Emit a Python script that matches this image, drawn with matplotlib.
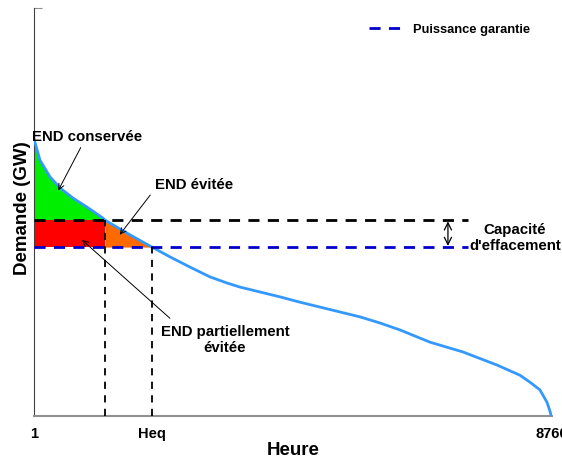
import numpy as np
import matplotlib
matplotlib.use("Agg")
import matplotlib.pyplot as plt

plt.rcParams['font.family'] = ['Liberation Sans', 'DejaVu Sans']
plt.rcParams['font.weight'] = 'bold'

# monotone load curve (hours sorted by demand)
heures = [1, 102, 272, 441, 661, 897, 1168, 1202, 1624, 1996, 2301, 2639,
          2977, 3265, 3484, 3823, 4161, 4499, 4837, 5175, 5514, 5852, 6190,
          6697, 7255, 7830, 8219, 8388, 8558, 8676, 8727, 8750]
demande = [67.9, 62.7, 58.6, 55.9, 53.4, 51.2, 48.5, 48.0, 44.4, 41.4, 39.0,
           36.5, 34.1, 32.6, 31.6, 30.4, 29.2, 27.9, 26.7, 25.5, 24.3, 22.8,
           21.1, 18.1, 15.7, 12.5, 10.0, 8.3, 6.4, 3.4, 1.2, 0.0]

puissance_garantie = 41.4
capacite = 48.0
h_croisement = 1202
h_eq = 1996
h_fin_lignes = 7340

xticks = [1, h_eq, 8760]
xticklabels = ["1", "Heq", "8760"]

x = np.array(heures)
y = np.array(demande)

fig = plt.figure(figsize=(5.62, 4.61), dpi=100)
ax = fig.add_axes([0.0605, 0.0976, 0.9215, 0.885])

# areas
m1 = x <= h_croisement
ax.fill_between(x[m1], capacite, y[m1], color="#00ee00", lw=0)
ax.fill_between([1, h_croisement], puissance_garantie, capacite, color="#ff0000", lw=0)
m2 = (x >= h_croisement) & (x <= h_eq)
ax.fill_between(x[m2], puissance_garantie, np.minimum(y[m2], capacite),
                color="#ff6a00", lw=0)

ax.plot(x, y, color="#3399ff", lw=2.0, zorder=3, solid_capstyle="round")

ax.plot([1, h_fin_lignes], [capacite, capacite], color="black", lw=2.0,
        dashes=(4, 3), zorder=4)
ax.plot([1, h_fin_lignes], [puissance_garantie, puissance_garantie],
        color="#0000cc", lw=2.0, dashes=(4, 3), zorder=4,
        label="Puissance garantie")
ax.plot([h_croisement, h_croisement], [0, capacite], color="black", lw=1.3,
        dashes=(4, 3.5), zorder=4)
ax.plot([h_eq, h_eq], [0, puissance_garantie], color="black", lw=1.3,
        dashes=(4, 3.5), zorder=4)

# annotations
arr = dict(arrowstyle="->", color="black", lw=0.7)
fs = 10.8
ax.text(897, 68.4, "END conservée", ha="center", va="center", fontsize=fs)
ax.annotate("", xy=(390, 54.7), xytext=(813, 66.4), arrowprops=arr)
ax.text(2707, 56.6, "END évitée", ha="center", va="center", fontsize=fs)
ax.annotate("", xy=(1422, 43.9), xytext=(1996, 54.7), arrowprops=arr)
ax.text(3231, 18.6, "END partiellement\névitée", ha="center", va="center",
        fontsize=fs, linespacing=1.2)
ax.annotate("", xy=(779, 43.6), xytext=(2335, 23.5), arrowprops=arr)
ax.annotate("", xy=(7002, capacite - 0.3), xytext=(7002, puissance_garantie + 0.3),
            arrowprops=dict(arrowstyle="<->", color="black", lw=0.9,
                            mutation_scale=13, shrinkA=0, shrinkB=0))
ax.text(8134, 43.6, "Capacité\nd'effacement", ha="center", va="center",
        fontsize=fs, linespacing=1.2)

ax.set_xlim(1, 8760)
ax.set_ylim(0, 100)
ax.set_xticks(xticks)
ax.set_xticklabels(xticklabels, fontsize=10.5)
ax.tick_params(axis="x", length=0, pad=8)
ax.set_yticks([100])
ax.set_yticklabels([""])
ax.tick_params(axis="y", direction="in", length=6, color="#909090")
ax.spines["top"].set_visible(False)
ax.spines["right"].set_visible(False)
ax.spines["left"].set_color("#404040")
ax.spines["bottom"].set_color("#909090")
ax.spines["bottom"].set_linewidth(1.5)

ax.set_xlabel("Heure", fontsize=13.5, fontweight="bold")
ax.set_ylabel("Demande (GW)", fontsize=13.5, fontweight="bold")
ax.xaxis.set_label_coords(0.5, -0.064)
ax.yaxis.set_label_coords(-0.006, 0.51)

ax.legend(loc="upper right", bbox_to_anchor=(0.98, 0.99), frameon=False,
          fontsize=9.3, handlelength=2.6, handletextpad=0.8)

fig.savefig("out.png", dpi=100)
